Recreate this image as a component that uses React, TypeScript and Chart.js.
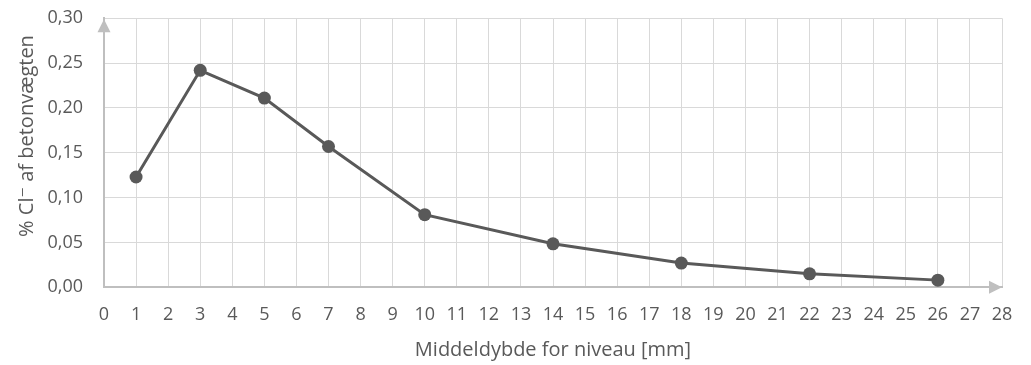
import React, { useEffect, useRef } from "react";
import { Chart, registerables } from "chart.js";

Chart.register(...registerables);

const depths = [1, 3, 5, 7, 10, 14, 18, 22, 26];
const chloride = [0.123, 0.242, 0.211, 0.157, 0.081, 0.0485, 0.027, 0.015, 0.008];
const xTitle = "Middeldybde for niveau [mm]";
const yTitle = "% Cl\u207B af betonvægten";

const FONT = "'Open Sans', 'DejaVu Sans', sans-serif";
const TEXT = "#595959";
const GRID = "#d9d9d9";
const AXIS = "#bfbfbf";
const LINE = "#595959";

const decorPlugin = {
  id: "decor",
  beforeDatasetsDraw(chart: any) {
    const { ctx, chartArea } = chart;
    const { left, right, top, bottom } = chartArea;
    ctx.save();
    ctx.fillStyle = AXIS;
    // x arrow
    ctx.beginPath();
    ctx.moveTo(right, bottom);
    ctx.lineTo(right - 13, bottom - 6.5);
    ctx.lineTo(right - 13, bottom + 6.5);
    ctx.closePath();
    ctx.fill();
    // y arrow
    ctx.beginPath();
    ctx.moveTo(left, top + 1);
    ctx.lineTo(left - 6.5, top + 14);
    ctx.lineTo(left + 6.5, top + 14);
    ctx.closePath();
    ctx.fill();
    ctx.restore();
  },
  afterDraw(chart: any) {
    const { ctx, chartArea } = chart;
    ctx.save();
    ctx.fillStyle = TEXT;
    ctx.font = `20px ${FONT}`;
    ctx.textAlign = "center";
    ctx.textBaseline = "alphabetic";
    // x title
    ctx.fillText(xTitle, (chartArea.left + chartArea.right) / 2, 355.5);
    // y title
    ctx.translate(33, 136);
    ctx.rotate(-Math.PI / 2);
    ctx.fillText(yTitle, 0, 0);
    ctx.restore();
  },
};

export default function App() {
  const ref = useRef<HTMLCanvasElement | null>(null);

  useEffect(() => {
    if (!ref.current) return;
    const chart = new Chart(ref.current, {
      type: "line",
      data: {
        datasets: [
          {
            data: depths.map((d, i) => ({ x: d, y: chloride[i] })),
            borderColor: LINE,
            backgroundColor: LINE,
            borderWidth: 3,
            pointRadius: 6.5,
            pointBackgroundColor: LINE,
            pointBorderColor: LINE,
            pointBorderWidth: 0,
            tension: 0,
            fill: false,
          },
        ],
      },
      options: {
        animation: false,
        responsive: false,
        maintainAspectRatio: false,
        layout: { padding: { top: 18.3, right: 29, left: 0, bottom: 0 } },
        plugins: {
          legend: { display: false },
          tooltip: { enabled: false },
        },
        scales: {
          x: {
            type: "linear",
            min: 0,
            max: 28,
            afterFit(scale: any) {
              scale.height = 77.7;
              scale.paddingLeft = 0;
              scale.paddingRight = 0;
            },
            ticks: {
              stepSize: 1,
              color: TEXT,
              font: { family: FONT, size: 18 },
              padding: 17,
              maxRotation: 0,
              autoSkip: false,
            },
            grid: { color: GRID, lineWidth: 1, drawTicks: false },
            border: { color: AXIS, width: 2 },
            title: { display: false },
          },
          y: {
            type: "linear",
            min: 0,
            max: 0.3,
            afterFit(scale: any) {
              scale.width = 104;
              scale.paddingTop = 0;
              scale.paddingBottom = 0;
            },
            ticks: {
              stepSize: 0.05,
              color: TEXT,
              font: { family: FONT, size: 18 },
              padding: 21,
              callback: (v: any) => Number(v).toFixed(2).replace(".", ","),
            },
            grid: { color: GRID, lineWidth: 1, drawTicks: false },
            border: { color: AXIS, width: 2 },
            title: { display: false },
          },
        },
      },
      plugins: [decorPlugin],
    } as any);
    return () => chart.destroy();
  }, []);

  return (
    <div style={{ position: "fixed", left: 0, top: 0, width: 1031, height: 365, background: "#fff" }}>
      <canvas ref={ref} width={1031} height={365} style={{ width: 1031, height: 365, display: "block" }} />
    </div>
  );
}
